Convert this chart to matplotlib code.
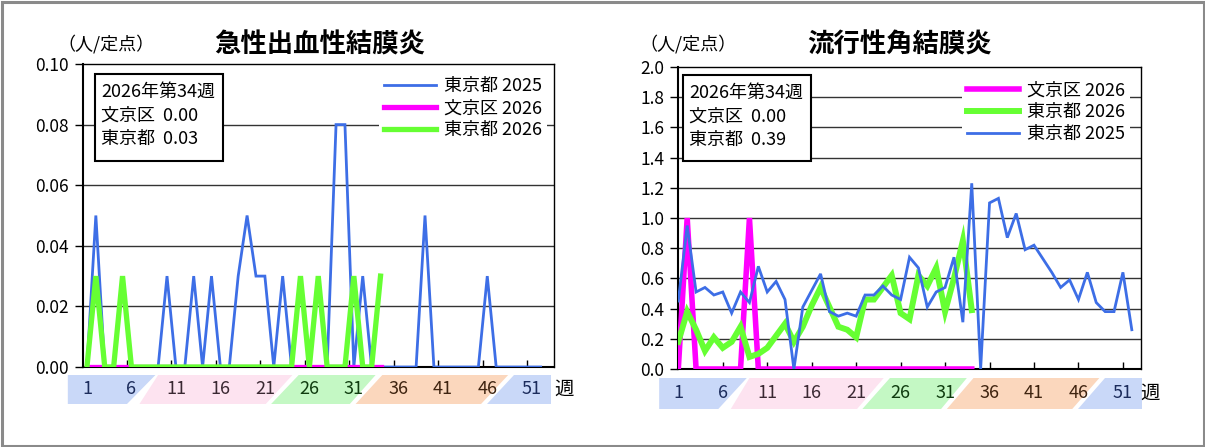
import matplotlib
matplotlib.use('Agg')
import numpy as np
import matplotlib.pyplot as plt
import matplotlib.transforms as mtransforms
from matplotlib.patches import Polygon, Rectangle

plt.rcParams['font.family'] = ['Noto Sans CJK JP', 'DejaVu Sans']

W, H = 1205, 447

# 急性出血性結膜炎 (人/定点)
ahc_tokyo_2025 = [0, 0.05, 0, 0, 0, 0, 0, 0, 0, 0.03, 0, 0, 0.03, 0, 0.03, 0, 0, 0.03, 0.05, 0.03,
                  0.03, 0, 0.03, 0, 0, 0, 0, 0, 0.08, 0.08, 0, 0.03, 0, 0, 0, 0, 0, 0, 0.05, 0,
                  0, 0, 0, 0, 0, 0.03, 0, 0, 0, 0, 0, 0]
ahc_bunkyo_2026 = [0] * 34
ahc_tokyo_2026 = [0, 0.03, 0, 0, 0.03, 0, 0, 0, 0, 0, 0, 0, 0, 0, 0, 0, 0, 0, 0, 0,
                  0, 0, 0, 0, 0.03, 0, 0.03, 0, 0, 0, 0.03, 0, 0, 0.03]

# 流行性角結膜炎 (人/定点)
ekc_bunkyo_2026 = [0, 1.0, 0, 0, 0, 0, 0, 0, 1.0, 0, 0, 0, 0, 0, 0, 0, 0, 0, 0, 0,
                   0, 0, 0, 0, 0, 0, 0, 0, 0, 0, 0, 0, 0, 0]
ekc_tokyo_2026 = [0.18, 0.38, 0.26, 0.12, 0.21, 0.14, 0.18, 0.28, 0.08, 0.10, 0.14, 0.22, 0.30, 0.18,
                  0.28, 0.42, 0.54, 0.41, 0.28, 0.26, 0.21, 0.46, 0.46, 0.54, 0.62, 0.37, 0.33, 0.62,
                  0.55, 0.67, 0.38, 0.60, 0.85, 0.39]
ekc_tokyo_2025 = [0.45, 0.95, 0.51, 0.54, 0.49, 0.51, 0.37, 0.51, 0.44, 0.68, 0.51, 0.58, 0.46, 0,
                  0.41, 0.52, 0.63, 0.38, 0.35, 0.37, 0.35, 0.49, 0.49, 0.55, 0.49, 0.46, 0.74, 0.67,
                  0.41, 0.51, 0.54, 0.74, 0.31, 1.23, 0, 1.10, 1.13, 0.87, 1.03, 0.79, 0.82, 0.73,
                  0.64, 0.54, 0.59, 0.46, 0.64, 0.44, 0.38, 0.38, 0.64, 0.26]

week_labels = [1, 6, 11, 16, 21, 26, 31, 36, 41, 46, 51]
label_band = [0, 0, 1, 1, 1, 2, 2, 3, 3, 3, 4]

# 季節の帯 (週の位置: 下辺 左/右, 上辺 左/右)
band_colors = ['#c9d8f8', '#fde3f0', '#c4f8c4', '#fbd7bd', '#c9d8f8']
band_text = ['#1c2c5c', '#3a2832', '#0f3c0f', '#3f2410', '#1c2c5c']
band_bottom = [(-1.15, 5.5), (6.9, 21.1), (21.7, 30.55), (31.2, 45.3), (46.0, 53.15)]
band_top = [(-1.15, 8.7), (9.0, 24.1), (24.8, 33.45), (34.2, 48.35), (48.95, 53.15)]

BLUE = '#3d6ee6'
MAGENTA = '#ff00ff'
GREEN = '#66ff33'


def fx(x):
    return x / W


def fy(y):
    return 1 - y / H


fig = plt.figure(figsize=(W / 100, H / 100), dpi=100)


def panel(box, xlim, xticks, ymax, ystep, yfmt, title, title_x, unit_x, band_y, series, info, info_box, leg_anchor):
    x0, y0, x1, y1 = box
    ax = fig.add_axes([fx(x0), fy(y1), fx(x1 - x0), (y1 - y0) / H])
    for vals, color, lw, lab, z in series:
        ax.plot(np.arange(1, len(vals) + 1), vals, color=color, lw=lw, label=lab, zorder=z,
                solid_joinstyle='miter')
    ax.set_xlim(*xlim)
    ax.set_ylim(0, ymax)
    yt = np.arange(0, ymax + ystep / 2, ystep)
    ax.set_yticks(yt)
    ax.set_yticklabels([yfmt % v for v in yt], fontsize=12.5)
    ax.set_xticks(xticks)
    ax.set_xticklabels([])
    ax.tick_params(axis='x', direction='in', length=5, width=1)
    ax.tick_params(axis='y', direction='out', length=6, width=1, pad=4)
    for v in yt[1:-1]:
        ax.axhline(v, color='#333333', lw=1, zorder=0)
    for s in ax.spines.values():
        s.set_color('black')
        s.set_linewidth(1)
    ax.spines['left'].set_linewidth(1.5)
    ax.spines['bottom'].set_linewidth(1.5)

    leg = ax.legend(loc='upper right', bbox_to_anchor=(fx(leg_anchor[0]), fy(leg_anchor[1])),
                    bbox_transform=fig.transFigure, fontsize=13, handlelength=2.9,
                    handletextpad=0.4, labelspacing=0.22, borderpad=0.3, borderaxespad=0,
                    fancybox=False, framealpha=1, edgecolor='none', facecolor='white')
    leg.set_zorder(5)

    # 情報枠
    bx0, by0, bx1, by1 = info_box
    ax.add_patch(Rectangle((fx(bx0), fy(by1)), fx(bx1 - bx0), (by1 - by0) / H, transform=fig.transFigure,
                           facecolor='white', edgecolor='black', lw=1.5, zorder=6, clip_on=False))
    for i, line in enumerate(info):
        fig.text(fx(bx0 + 6), fy(by0 + 17.5 + 23.7 * i), line, fontsize=13, va='center', ha='left',
                 zorder=7)

    fig.text(fx(title_x), fy(45), title, fontsize=19, fontweight='bold', ha='center', va='center')
    fig.text(fx(unit_x), fy(44), '（人/定点）', fontsize=13, ha='center', va='center')

    # 週の帯
    tr = mtransforms.blended_transform_factory(ax.transData, fig.transFigure)
    yb, ytop = fy(band_y[1]), fy(band_y[0])
    for c, (bl, br), (tl, tr_) in zip(band_colors, band_bottom, band_top):
        ax.add_patch(Polygon([(bl, yb), (br, yb), (tr_, ytop), (tl, ytop)], closed=True, transform=tr,
                             facecolor=c, edgecolor='none', clip_on=False, zorder=1))
    ymid = fy((band_y[0] + band_y[1]) / 2)
    for wk, b in zip(week_labels, label_band):
        ax.text(wk, ymid, str(wk), transform=tr, fontsize=13, color=band_text[b],
                ha='center', va='center', clip_on=False, zorder=2)
    ax.text(xlim[1] + 1.1, ymid, '週', transform=tr, fontsize=14, ha='center', va='center',
            clip_on=False)
    return ax


panel((82.5, 64, 554, 367), (0.5, 53.5), np.arange(5.5, 51, 5), 0.10, 0.02, '%.2f',
      '急性出血性結膜炎', 320, 106, (375, 404),
      [(ahc_tokyo_2025, BLUE, 2.0, '東京都 2025', 3),
       (ahc_bunkyo_2026, MAGENTA, 3.8, '文京区 2026', 4),
       (ahc_tokyo_2026, GREEN, 3.8, '東京都 2026', 5)],
      ['2026年第34週', '文京区  0.00', '東京都  0.03'], (95, 74, 223, 161), (547, 72))

panel((678.3, 67, 1140.7, 369), (1, 53), np.arange(6, 52, 5), 2.0, 0.2, '%.1f',
      '流行性角結膜炎', 900, 688, (378, 409),
      [(ekc_bunkyo_2026, MAGENTA, 4.0, '文京区 2026', 3),
       (ekc_tokyo_2026, GREEN, 4.3, '東京都 2026', 4),
       (ekc_tokyo_2025, BLUE, 2.0, '東京都 2025', 5)],
      ['2026年第34週', '文京区  0.00', '東京都  0.39'], (683, 75, 811, 161), (1130, 76))

fig.patches.append(Rectangle((fx(1.5), fy(445.5)), fx(W - 3), (H - 3) / H, transform=fig.transFigure,
                             fill=False, edgecolor='#8a8a8a', lw=2.2))

fig.savefig('out.png', dpi=100)
